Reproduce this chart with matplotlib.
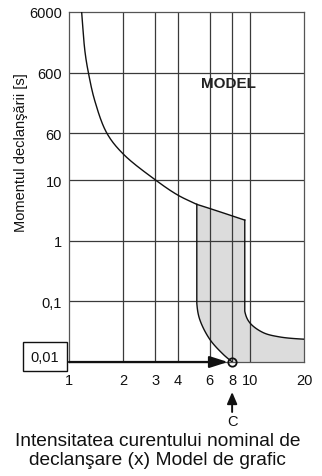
import matplotlib
matplotlib.use("Agg")
import matplotlib.pyplot as plt
import numpy as np

plt.rcParams['font.family'] = ['Liberation Sans', 'DejaVu Sans']

# Tripping characteristic: long-delay (thermal) curve
curve_x = [1.175, 1.225, 1.28, 1.39, 1.62, 2.0, 3.0, 4.0, 5.1]
curve_t = [6000, 1350, 600, 204, 60, 27.0, 10.2, 5.7, 4.0]

# Tolerance band (shaded): upper edge, right boundary, lower boundary
band_top_x = [5.1, 7.0, 9.4]
band_top_t = [4.0, 2.95, 2.2]
band_right_x = [9.4, 9.4, 10.0, 11.85, 14.6, 20.0]
band_right_t = [2.2, 0.069, 0.0448, 0.0307, 0.026, 0.0238]
band_left_x = [5.1, 5.1, 5.29, 6.01, 7.12, 8.0]
band_left_t = [4.0, 0.093, 0.0507, 0.0238, 0.0135, 0.01]

x_ticks = [1, 2, 3, 4, 6, 8, 10, 20]
x_labels = ['1', '2', '3', '4', '6', '8', '10', '20']
y_ticks = [0.1, 1, 10, 60, 600, 6000]
y_labels = ['0,1', '1', '10', '60', '600', '6000']
marked_x = 8
marked_t = 0.01

# pixel-ish scale of one decade on each axis (used for smooth rendering)
KX, KY = 181.0, 61.0


def smooth_path(xs, ts, start_dir=None, end_dir=None, n=24):
    """Centripetal Catmull-Rom through points in log-log space."""
    P = np.column_stack([np.log10(xs) * KX, np.log10(ts) * KY])
    if start_dir is None:
        p0 = 2 * P[0] - P[1]
    else:
        p0 = P[0] - np.asarray(start_dir, float)
    if end_dir is None:
        pn = 2 * P[-1] - P[-2]
    else:
        pn = P[-1] + np.asarray(end_dir, float)
    Q = np.vstack([p0, P, pn])
    out = [P[0]]
    for i in range(1, len(Q) - 2):
        p_0, p_1, p_2, p_3 = Q[i - 1], Q[i], Q[i + 1], Q[i + 2]

        def tj(ti, a, b):
            return ti + max(np.linalg.norm(b - a), 1e-6) ** 0.5
        t0 = 0.0
        t1 = tj(t0, p_0, p_1)
        t2 = tj(t1, p_1, p_2)
        t3 = tj(t2, p_2, p_3)
        for t in np.linspace(t1, t2, n)[1:]:
            A1 = (t1 - t) / (t1 - t0) * p_0 + (t - t0) / (t1 - t0) * p_1
            A2 = (t2 - t) / (t2 - t1) * p_1 + (t - t1) / (t2 - t1) * p_2
            A3 = (t3 - t) / (t3 - t2) * p_2 + (t - t2) / (t3 - t2) * p_3
            B1 = (t2 - t) / (t2 - t0) * A1 + (t - t0) / (t2 - t0) * A2
            B2 = (t3 - t) / (t3 - t1) * A2 + (t - t1) / (t3 - t1) * A3
            C = (t2 - t) / (t2 - t1) * B1 + (t - t1) / (t2 - t1) * B2
            out.append(C)
    out = np.array(out)
    return 10 ** (out[:, 0] / KX), 10 ** (out[:, 1] / KY)


W, H = 322, 477
fig = plt.figure(figsize=(W / 100, H / 100), dpi=100)
ax = fig.add_axes([69 / W, 1 - 363 / H, (304 - 69) / W, (363 - 13) / H])
ax.set_xscale('log')
ax.set_yscale('log')
ax.set_xlim(1, 20)
ax.set_ylim(0.01, 6000)

# smooth outlines
mx, mt = smooth_path(curve_x, curve_t)
tx, tt = smooth_path(band_top_x, band_top_t, start_dir=(30, -9))
rx_c, rt_c = smooth_path(band_right_x[1:], band_right_t[1:], start_dir=(0, -20), end_dir=(20, -0.5))
rx = np.concatenate([[band_right_x[0]], rx_c])
rt = np.concatenate([[band_right_t[0]], rt_c])
lx_c, lt_c = smooth_path(band_left_x[1:], band_left_t[1:], start_dir=(0, -20))
lx = np.concatenate([[band_left_x[0]], lx_c])
lt = np.concatenate([[band_left_t[0]], lt_c])

# shaded band
poly_x = np.concatenate([tx, rx, [20.0, marked_x], lx[::-1]])
poly_t = np.concatenate([tt, rt, [0.01, 0.01], lt[::-1]])
ax.fill(poly_x, poly_t, color='#dcdcdc', lw=0, zorder=1)

# grid
grid_col = '#3a3a3a'
for xv in x_ticks[1:-1]:
    ax.axvline(xv, color=grid_col, lw=0.9, zorder=2)
for yv in y_ticks[:-1]:
    ax.axhline(yv, color=grid_col, lw=0.9, zorder=2)

# curves
lc = '#111111'
ax.plot(mx, mt, color=lc, lw=1.0, zorder=3)
ax.plot(tx, tt, color=lc, lw=1.0, zorder=3)
ax.plot(rx, rt, color=lc, lw=1.0, zorder=3)
ax.plot(lx, lt, color=lc, lw=1.0, zorder=3)

# axes frame
for side in ['left', 'right', 'top', 'bottom']:
    ax.spines[side].set_color('#555555')
    ax.spines[side].set_linewidth(0.9)

ax.set_xticks(x_ticks)
ax.set_xticklabels(x_labels)
ax.set_yticks(y_ticks)
ax.set_yticklabels(y_labels)
ax.minorticks_off()
ax.tick_params(axis='both', length=0, labelsize=10.5, colors='#111111')
ax.tick_params(axis='x', pad=8)
ax.tick_params(axis='y', pad=5)

# arrow along the time axis to the marked point
ax.annotate('', xy=(marked_x, marked_t), xytext=(1, marked_t),
            arrowprops=dict(arrowstyle='-|>,head_length=1.1,head_width=0.35',
                            mutation_scale=10, color='#111111', lw=1.6,
                            shrinkA=0, shrinkB=3),
            annotation_clip=False, zorder=5)
ax.plot([marked_x], [marked_t], marker='o', ms=6, mfc='none', mec='#111111',
        mew=1.3, clip_on=False, zorder=6)

# boxed 0,01 label
ax.annotate('0,01', xy=(1, marked_t), xytext=(-24, 5.5), textcoords='offset pixels',
            ha='center', va='center', fontsize=10.5, color='#111111',
            bbox=dict(boxstyle='square,pad=0.5', fc='white', ec='#111111', lw=1.0),
            annotation_clip=False)

# marker C with arrow
ax.annotate('', xy=(marked_x, H - 393), xycoords=('data', 'figure pixels'),
            xytext=(marked_x, H - 413), textcoords=('data', 'figure pixels'),
            arrowprops=dict(arrowstyle='-|>,head_length=0.7,head_width=0.3',
                            mutation_scale=10, color='#111111', lw=1.4,
                            shrinkA=0, shrinkB=0),
            annotation_clip=False)
ax.annotate('C', xy=(marked_x, H - 422), xycoords=('data', 'figure pixels'),
            ha='center', va='center', fontsize=10.5, color='#111111',
            annotation_clip=False)

fig.text(228 / W, 1 - 84 / H, 'MODEL', fontsize=11, fontweight='bold',
         color='#222222', ha='center', va='center')

fig.text(21 / W, 1 - 153 / H, 'Momentul declanşării [s]', rotation=90,
         ha='center', va='center', fontsize=10.5, color='#111111')
fig.text(0.49, 1 - 451 / H, 'Intensitatea curentului nominal de\ndeclanşare (x) Model de grafic',
         ha='center', va='center', fontsize=13.8, color='#111111', linespacing=1.2)

fig.savefig('out.png', dpi=100)
